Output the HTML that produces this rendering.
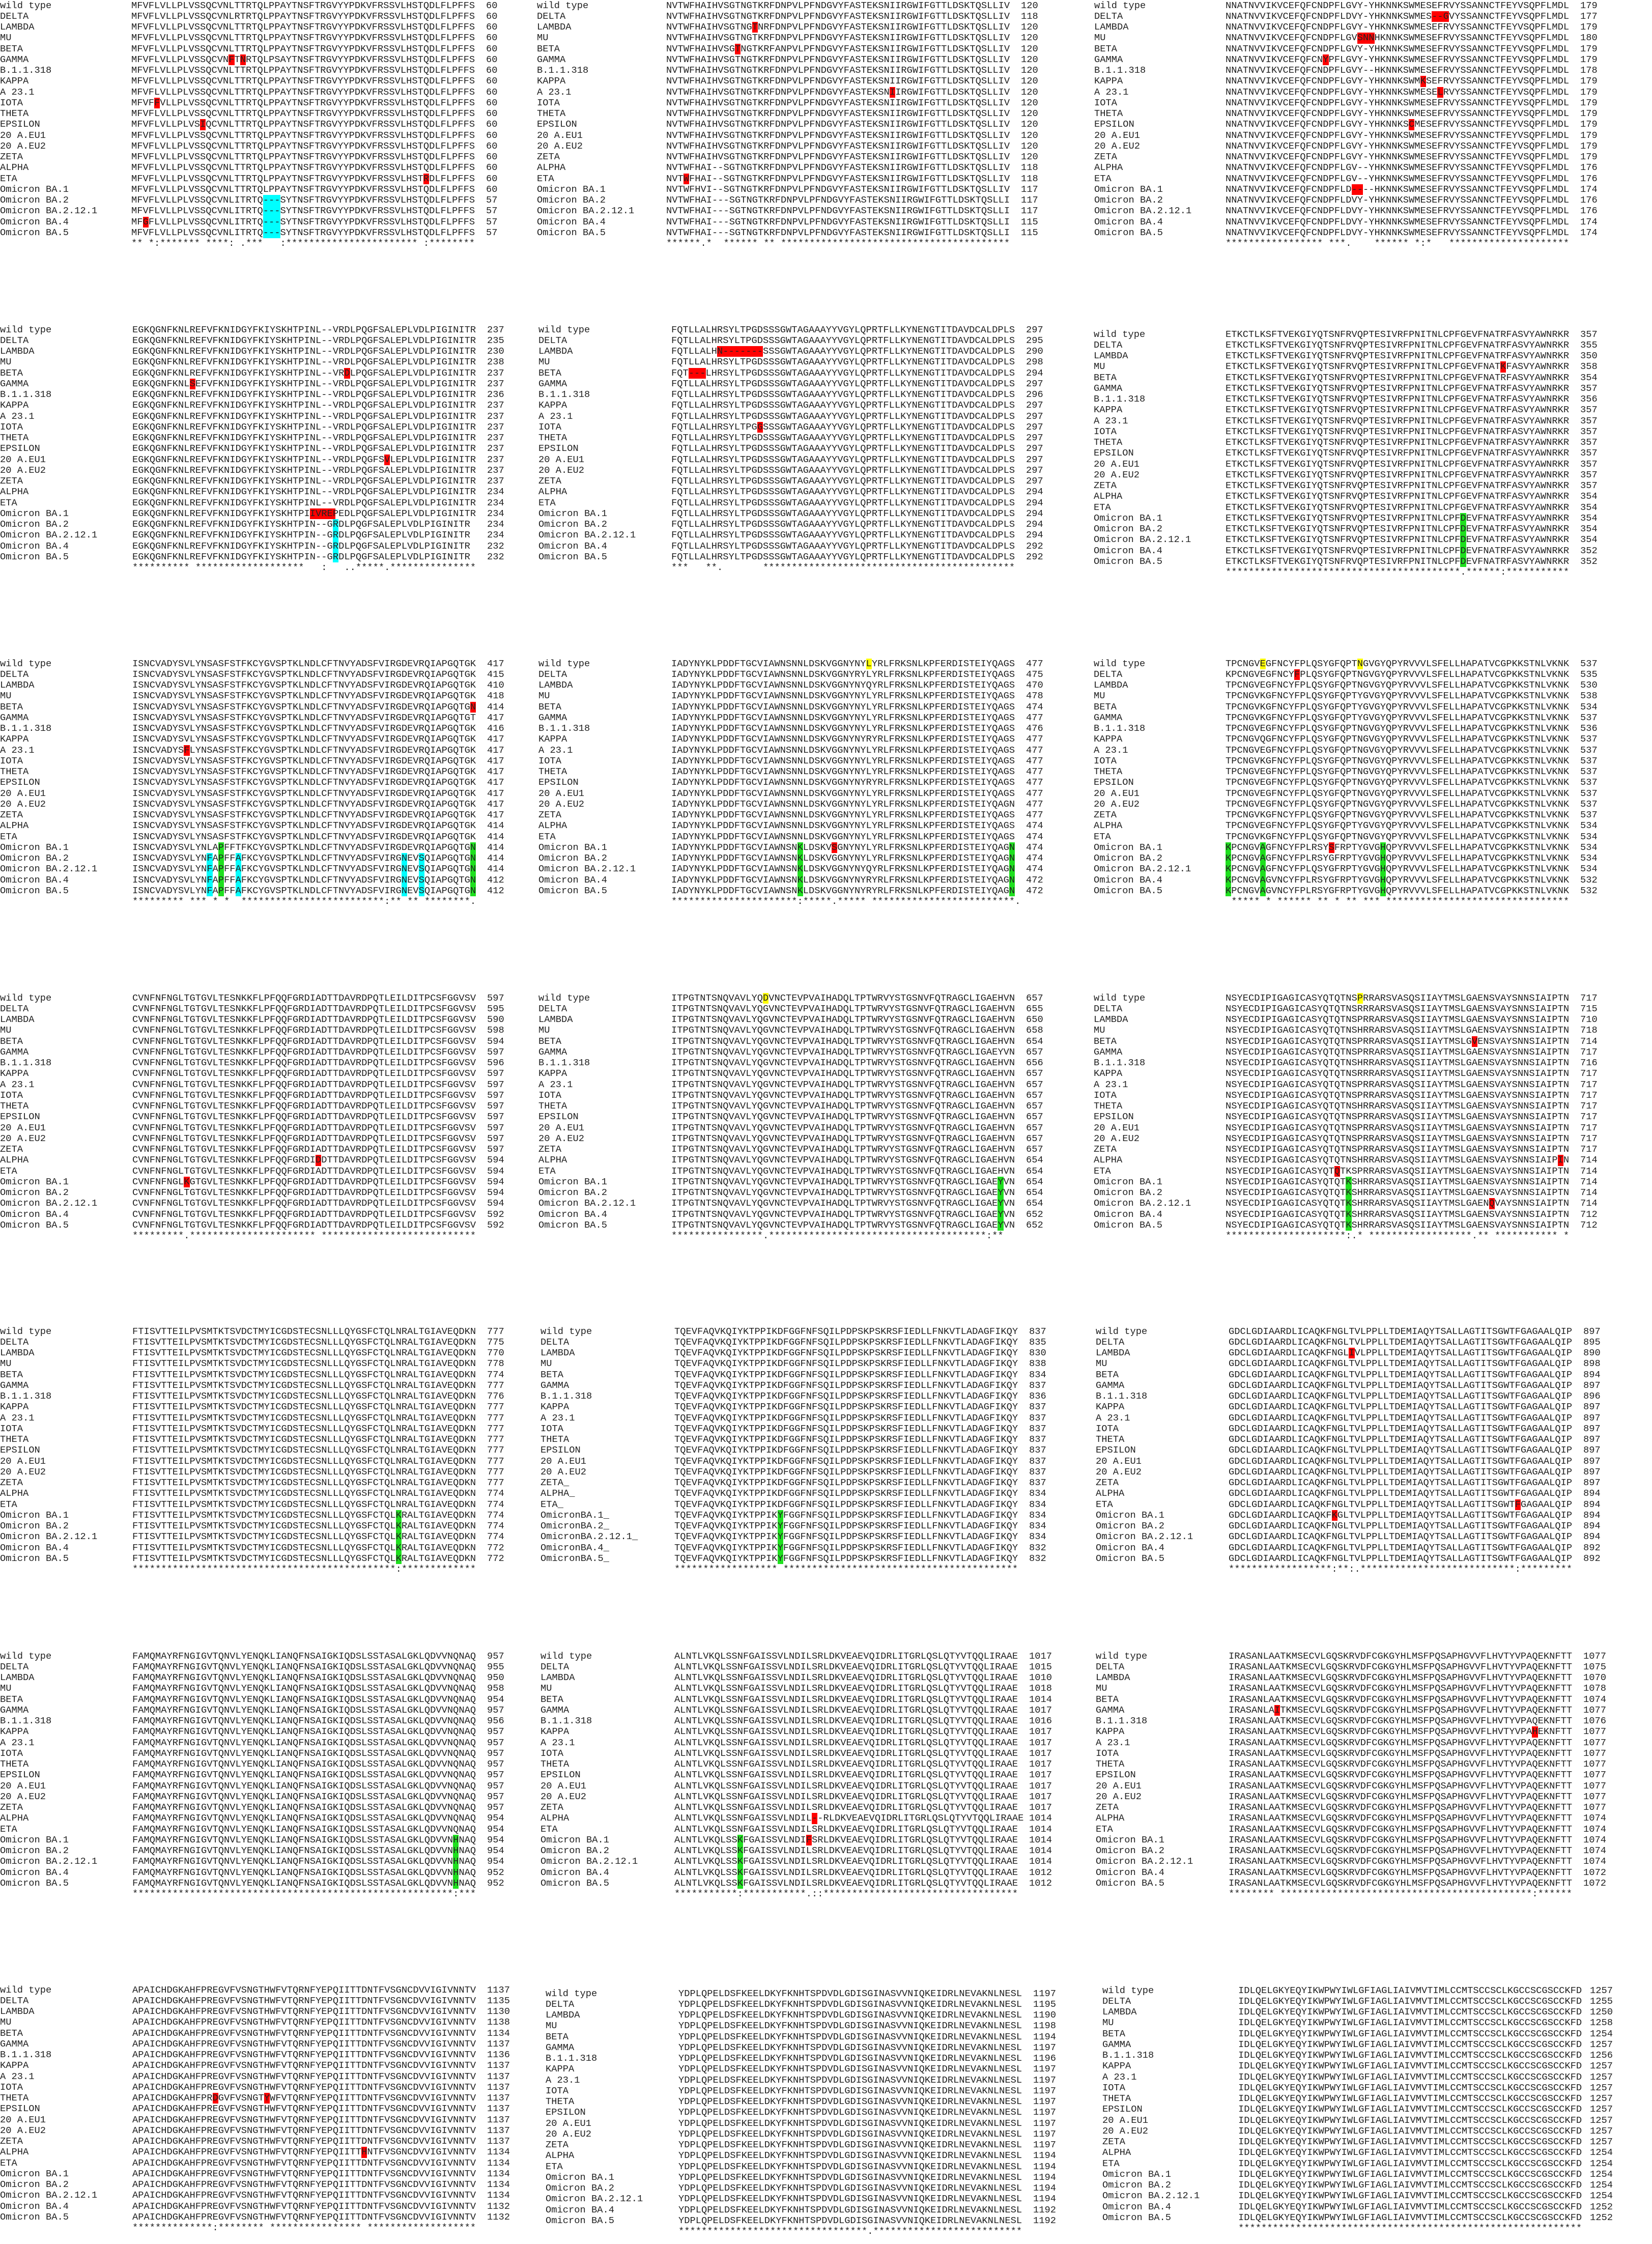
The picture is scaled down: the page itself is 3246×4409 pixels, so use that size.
<!DOCTYPE html>
<html><head><meta charset="utf-8"><style>
html,body{margin:0;padding:0;background:#fff;width:3246px;height:4409px;overflow:hidden;position:relative}
.h{position:absolute;height:21.25px;width:11.25px}
.r{background:#f00}.g{background:#1ee01e}.c{background:#0ff}.y{background:#ff0}
.b{position:absolute}
.b pre{position:absolute;top:0;margin:0;font:18.75px/21.25px "Liberation Mono",monospace;color:#222;white-space:pre}
</style></head><body>
<!-- highlights -->
<div class="h r" style="left:449.25px;top:106.75px"></div>
<div class="h r" style="left:471.75px;top:106.75px"></div>
<div class="h r" style="left:303px;top:191.75px"></div>
<div class="h r" style="left:393px;top:234.25px"></div>
<div class="h r" style="left:831.75px;top:340.5px"></div>
<div class="h r" style="left:280.5px;top:425.5px"></div>
<div class="h c" style="left:516.75px;top:383px;width:33.75px;height:85px"></div>
<div class="h r" style="left:1477.75px;top:43px"></div>
<div class="h r" style="left:1444px;top:85.5px"></div>
<div class="h r" style="left:1747.75px;top:170.5px"></div>
<div class="h r" style="left:1342.75px;top:340.5px"></div>
<div class="h r" style="left:2813px;top:21.75px;width:33.75px"></div>
<div class="h r" style="left:2666.75px;top:64.25px;width:33.75px"></div>
<div class="h r" style="left:2599.25px;top:106.75px"></div>
<div class="h r" style="left:2790.5px;top:149.25px"></div>
<div class="h r" style="left:2824.25px;top:170.5px"></div>
<div class="h r" style="left:2768px;top:234.25px"></div>
<div class="h r" style="left:2655.5px;top:361.75px;width:22.5px"></div>

<div class="h r" style="left:676.25px;top:722.5px"></div>
<div class="h r" style="left:372.5px;top:743.75px"></div>
<div class="h r" style="left:755px;top:892.5px"></div>
<div class="h r" style="left:608.75px;top:998.75px;width:50px"></div>
<div class="h c" style="left:653.75px;top:1020px;height:85px"></div>
<div class="h r" style="left:1409px;top:680px;width:90px"></div>
<div class="h r" style="left:1352.75px;top:722.5px;width:33.75px"></div>
<div class="h r" style="left:1487.75px;top:828.75px"></div>
<div class="h r" style="left:2948px;top:710.25px"></div>
<div class="h g" style="left:2869.25px;top:1007.75px;height:106.25px"></div>

<div class="h r" style="left:923.75px;top:1378.5px"></div>
<div class="h r" style="left:361.25px;top:1463.5px"></div>
<div class="h c" style="left:406.25px;top:1676px;height:85px"></div>
<div class="h c" style="left:462.5px;top:1676px;height:85px"></div>
<div class="h c" style="left:788.75px;top:1676px;height:85px"></div>
<div class="h c" style="left:822.5px;top:1676px;height:85px"></div>
<div class="h g" style="left:428.75px;top:1654.75px;height:106.25px"></div>
<div class="h g" style="left:923.75px;top:1654.75px;height:106.25px"></div>
<div class="h y" style="left:1701.5px;top:1293.5px"></div>
<div class="h r" style="left:1634px;top:1654.75px"></div>
<div class="h g" style="left:1566.5px;top:1654.75px;height:106.25px"></div>
<div class="h g" style="left:1982.75px;top:1654.75px;height:106.25px"></div>
<div class="h y" style="left:2475.5px;top:1293.5px"></div>
<div class="h y" style="left:2666.75px;top:1293.5px"></div>
<div class="h r" style="left:2543px;top:1314.75px"></div>
<div class="h r" style="left:2610.5px;top:1654.75px"></div>
<div class="h g" style="left:2408px;top:1654.75px;height:106.25px"></div>
<div class="h g" style="left:2475.5px;top:1654.75px;height:106.25px"></div>
<div class="h g" style="left:2711.75px;top:1654.75px;height:106.25px"></div>

<div class="h r" style="left:620px;top:2269.25px"></div>
<div class="h r" style="left:361.25px;top:2311.75px"></div>
<div class="h y" style="left:1499px;top:1950.5px"></div>
<div class="h g" style="left:1960.25px;top:2311.75px;height:106.25px"></div>
<div class="h y" style="left:2666.75px;top:1950.5px"></div>
<div class="h r" style="left:2891.75px;top:2035.5px"></div>
<div class="h r" style="left:3060.5px;top:2269.25px"></div>
<div class="h r" style="left:2621.75px;top:2290.5px"></div>
<div class="h g" style="left:2644.25px;top:2311.75px;height:106.25px"></div>
<div class="h r" style="left:2925.5px;top:2354.25px"></div>

<div class="h g" style="left:777.5px;top:2966.75px;height:106.25px"></div>
<div class="h g" style="left:1527.5px;top:2966.75px;height:106.25px"></div>
<div class="h r" style="left:2650.25px;top:2648px"></div>
<div class="h r" style="left:2976.5px;top:2945.5px"></div>
<div class="h r" style="left:2616.5px;top:2966.75px"></div>

<div class="h g" style="left:890px;top:3604.75px;height:106.25px"></div>
<div class="h r" style="left:1595px;top:3562.25px"></div>
<div class="h r" style="left:1583.75px;top:3604.75px"></div>
<div class="h g" style="left:1448.75px;top:3604.75px;height:106.25px"></div>
<div class="h r" style="left:2504px;top:3349.75px"></div>
<div class="h r" style="left:3010.25px;top:3392.25px"></div>

<div class="h r" style="left:417.5px;top:4112px"></div>
<div class="h r" style="left:518.75px;top:4112px"></div>
<div class="h r" style="left:710px;top:4218.25px"></div>

<!-- ROW 1 -->
<div class="b" style="left:0px;top:0.5px"><pre>wild type
DELTA
LAMBDA
MU
BETA
GAMMA
B.1.1.318
KAPPA
A 23.1
IOTA
THETA
EPSILON
20 A.EU1
20 A.EU2
ZETA
ALPHA
ETA
Omicron BA.1
Omicron BA.2
Omicron BA.2.12.1
Omicron BA.4
Omicron BA.5</pre><pre style="left:258px">MFVFLVLLPLVSSQCVNLTTRTQLPPAYTNSFTRGVYYPDKVFRSSVLHSTQDLFLPFFS
MFVFLVLLPLVSSQCVNLRTRTQLPPAYTNSFTRGVYYPDKVFRSSVLHSTQDLFLPFFS
MFVFLVLLPLVSSQCVNLTTRTQLPPAYTNSFTRGVYYPDKVFRSSVLHSTQDLFLPFFS
MFVFLVLLPLVSSQCVNLTTRTQLPPAYTNSFTRGVYYPDKVFRSSVLHSTQDLFLPFFS
MFVFLVLLPLVSSQCVNLTTRTQLPPAYTNSFTRGVYYPDKVFRSSVLHSTQDLFLPFFS
MFVFLVLLPLVSSQCVNFTNRTQLPSAYTNSFTRGVYYPDKVFRSSVLHSTQDLFLPFFS
MFVFLVLLPLVSSQCVNLTTRTQLPPAYTNSFTRGVYYPDKVFRSSVLHSTQDLFLPFFS
MFVFLVLLPLVSSQCVNLTTRTQLPPAYTNSFTRGVYYPDKVFRSSVLHSTQDLFLPFFS
MFVFLVLLPLVSSQCVNLTTRTQLPPAYTNSFTRGVYYPDKVFRSSVLHSTQDLFLPFFS
MFVFFVLLPLVSSQCVNLTTRTQLPPAYTNSFTRGVYYPDKVFRSSVLHSTQDLFLPFFS
MFVFLVLLPLVSSQCVNLTTRTQLPPAYTNSFTRGVYYPDKVFRSSVLHSTQDLFLPFFS
MFVFLVLLPLVSIQCVNLTTRTQLPPAYTNSFTRGVYYPDKVFRSSVLHSTQDLFLPFFS
MFVFLVLLPLVSSQCVNLTTRTQLPPAYTNSFTRGVYYPDKVFRSSVLHSTQDLFLPFFS
MFVFLVLLPLVSSQCVNLTTRTQLPPAYTNSFTRGVYYPDKVFRSSVLHSTQDLFLPFFS
MFVFLVLLPLVSSQCVNLTTRTQLPPAYTNSFTRGVYYPDKVFRSSVLHSTQDLFLPFFS
MFVFLVLLPLVSSQCVNLTTRTQLPPAYTNSFTRGVYYPDKVFRSSVLHSTQDLFLPFFS
MFVFLVLLPLVSSQCVNLTTRTQLPPAYTNSFTRGVYYPDKVFRSSVLHSTRDLFLPFFS
MFVFLVLLPLVSSQCVNLTTRTQLPPAYTNSFTRGVYYPDKVFRSSVLHSTQDLFLPFFS
MFVFLVLLPLVSSQCVNLITRTQ---SYTNSFTRGVYYPDKVFRSSVLHSTQDLFLPFFS
MFVFLVLLPLVSSQCVNLITRTQ---SYTNSFTRGVYYPDKVFRSSVLHSTQDLFLPFFS
MFGFLVLLPLVSSQCVNLITRTQ---SYTNSFTRGVYYPDKVFRSSVLHSTQDLFLPFFS
MFVFLVLLPLVSSQCVNLITRTQ---SYTNSFTRGVYYPDKVFRSSVLHSTQDLFLPFFS
** *:******* ****: .***   :*********************** :********</pre><pre style="left:955px">60
60
60
60
60
60
60
60
60
60
60
60
60
60
60
60
60
60
57
57
57
57</pre></div>

<div class="b" style="left:1055px;top:0.5px"><pre>wild type
DELTA
LAMBDA
MU
BETA
GAMMA
B.1.1.318
KAPPA
A 23.1
IOTA
THETA
EPSILON
20 A.EU1
20 A.EU2
ZETA
ALPHA
ETA
Omicron BA.1
Omicron BA.2
Omicron BA.2.12.1
Omicron BA.4
Omicron BA.5</pre><pre style="left:254px">NVTWFHAIHVSGTNGTKRFDNPVLPFNDGVYFASTEKSNIIRGWIFGTTLDSKTQSLLIV
NVTWFHAIHVSGTNGTKRFDNPVLPFNDGVYFASTEKSNIIRGWIFGTTLDSKTQSLLIV
NVTWFHAIHVSGTNGTNRFDNPVLPFNDGVYFASTEKSNIIRGWIFGTTLDSKTQSLLIV
NVTWFHAIHVSGTNGTKRFDNPVLPFNDGVYFASTEKSNIIRGWIFGTTLDSKTQSLLIV
NVTWFHAIHVSGTNGTKRFANPVLPFNDGVYFASTEKSNIIRGWIFGTTLDSKTQSLLIV
NVTWFHAIHVSGTNGTKRFDNPVLPFNDGVYFASTEKSNIIRGWIFGTTLDSKTQSLLIV
NVTWFHAIHVSGTNGTKRFDNPVLPFNDGVYFASTEKSNIIRGWIFGTTLDSKTQSLLIV
NVTWFHAIHVSGTNGTKRFDNPVLPFNDGVYFASTEKSNIIRGWIFGTTLDSKTQSLLIV
NVTWFHAIHVSGTNGTKRFDNPVLPFNDGVYFASTEKSNIIRGWIFGTTLDSKTQSLLIV
NVTWFHAIHVSGTNGTKRFDNPVLPFNDGVYFASTEKSNIIRGWIFGTTLDSKTQSLLIV
NVTWFHAIHVSGTNGTKRFDNPVLPFNDGVYFASTEKSNIIRGWIFGTTLDSKTQSLLIV
NVTWFHAIHVSGTNGTKRFDNPVLPFNDGVYFASTEKSNIIRGWIFGTTLDSKTQSLLIV
NVTWFHAIHVSGTNGTKRFDNPVLPFNDGVYFASTEKSNIIRGWIFGTTLDSKTQSLLIV
NVTWFHAIHVSGTNGTKRFDNPVLPFNDGVYFASTEKSNIIRGWIFGTTLDSKTQSLLIV
NVTWFHAIHVSGTNGTKRFDNPVLPFNDGVYFASTEKSNIIRGWIFGTTLDSKTQSLLIV
NVTWFHAI--SGTNGTKRFDNPVLPFNDGVYFASTEKSNIIRGWIFGTTLDSKTQSLLIV
NVTWFHAI--SGTNGTKRFDNPVLPFNDGVYFASTEKSNIIRGWIFGTTLDSKTQSLLIV
NVTWFHVI--SGTNGTKRFDNPVLPFNDGVYFASTEKSNIIRGWIFGTTLDSKTQSLLIV
NVTWFHAI---SGTNGTKRFDNPVLPFNDGVYFASTEKSNIIRGWIFGTTLDSKTQSLLI
NVTWFHAI---SGTNGTKRFDNPVLPFNDGVYFASTEKSNIIRGWIFGTTLDSKTQSLLI
NVTWFHAI---SGTNGTKRFDNPVLPFNDGVYFASTEKSNIIRGWIFGTTLDSKTQSLLI
NVTWFHAI---SGTNGTKRFDNPVLPFNDGVYFASTEKSNIIRGWIFGTTLDSKTQSLLI
******.*  ****** ** ****************************************</pre><pre style="left:951px">120
118
120
120
120
120
120
120
120
120
120
120
120
120
120
118
118
117
117
117
115
115</pre></div>

<div class="b" style="left:2150px;top:0.5px"><pre>wild type
DELTA
LAMBDA
MU
BETA
GAMMA
B.1.1.318
KAPPA
A 23.1
IOTA
THETA
EPSILON
20 A.EU1
20 A.EU2
ZETA
ALPHA
ETA
Omicron BA.1
Omicron BA.2
Omicron BA.2.12.1
Omicron BA.4
Omicron BA.5</pre><pre style="left:258px">NNATNVVIKVCEFQFCNDPFLGVY-YHKNNKSWMESEFRVYSSANNCTFEYVSQPFLMDL
NNATNVVIKVCEFQFCNDPFLDVY-YHKNNKSWMES--GVYSSANNCTFEYVSQPFLMDL
NNATNVVIKVCEFQFCNDPFLGVY-YHKNNKSWMESEFRVYSSANNCTFEYVSQPFLMDL
NNATNVVIKVCEFQFCNDPFLGVSNNHKNNKSWMESEFRVYSSANNCTFEYVSQPFLMDL
NNATNVVIKVCEFQFCNDPFLGVY-YHKNNKSWMESEFRVYSSANNCTFEYVSQPFLMDL
NNATNVVIKVCEFQFCNYPFLGVY-YHKNNKSWMESEFRVYSSANNCTFEYVSQPFLMDL
NNATNVVIKVCEFQFCNDPFLGVY--HKNNKSWMESEFRVYSSANNCTFEYVSQPFLMDL
NNATNVVIKVCEFQFCNDPFLGVY-YHKNNKSWMKSEFRVYSSANNCTFEYVSQPFLMDL
NNATNVVIKVCEFQFCNDPFLGVY-YHKNNKSWMESELRVYSSANNCTFEYVSQPFLMDL
NNATNVVIKVCEFQFCNDPFLGVY-YHKNNKSWMESEFRVYSSANNCTFEYVSQPFLMDL
NNATNVVIKVCEFQFCNDPFLGVY-YHKNNKSWMESEFRVYSSANNCTFEYVSQPFLMDL
NNATNVVIKVCEFQFCNDPFLGVY-YHKNNKSCMESEFRVYSSANNCTFEYVSQPFLMDL
NNATNVVIKVCEFQFCNDPFLGVY-YHKNNKSWMESEFRVYSSANNCTFEYVSQPFLMDL
NNATNVVIKVCEFQFCNDPFLGVY-YHKNNKSWMESEFRVYSSANNCTFEYVSQPFLMDL
NNATNVVIKVCEFQFCNDPFLGVY-YHKNNKSWMESEFRVYSSANNCTFEYVSQPFLMDL
NNATNVVIKVCEFQFCNDPFLGV--YHKNNKSWMESEFRVYSSANNCTFEYVSQPFLMDL
NNATNVVIKVCEFQFCNDPFLGV--YHKNNKSWMESEFRVYSSANNCTFEYVSQPFLMDL
NNATNVVIKVCEFQFCNDPFLD----HKNNKSWMESEFRVYSSANNCTFEYVSQPFLMDL
NNATNVVIKVCEFQFCNDPFLDVY-YHKNNKSWMESEFRVYSSANNCTFEYVSQPFLMDL
NNATNVVIKVCEFQFCNDPFLDVY-YHKNNKSWMESEFRVYSSANNCTFEYVSQPFLMDL
NNATNVVIKVCEFQFCNDPFLDVY-YHKNNKSWMESEFRVYSSANNCTFEYVSQPFLMDL
NNATNVVIKVCEFQFCNDPFLDVY-YHKNNKSWMESEFRVYSSANNCTFEYVSQPFLMDL
***************** ***.    ****** *:*   *********************</pre><pre style="left:955px">179
177
179
180
179
179
178
179
179
179
179
179
179
179
179
176
176
174
176
176
174
174</pre></div>

<!-- ROW 2 -->
<div class="b" style="left:0px;top:637.5px"><pre>wild type
DELTA
LAMBDA
MU
BETA
GAMMA
B.1.1.318
KAPPA
A 23.1
IOTA
THETA
EPSILON
20 A.EU1
20 A.EU2
ZETA
ALPHA
ETA
Omicron BA.1
Omicron BA.2
Omicron BA.2.12.1
Omicron BA.4
Omicron BA.5</pre><pre style="left:260px">EGKQGNFKNLREFVFKNIDGYFKIYSKHTPINL--VRDLPQGFSALEPLVDLPIGINITR
EGKQGNFKNLREFVFKNIDGYFKIYSKHTPINL--VRDLPQGFSALEPLVDLPIGINITR
EGKQGNFKNLREFVFKNIDGYFKIYSKHTPINL--VRDLPQGFSALEPLVDLPIGINITR
EGKQGNFKNLREFVFKNIDGYFKIYSKHTPINL--VRDLPQGFSALEPLVDLPIGINITR
EGKQGNFKNLREFVFKNIDGYFKIYSKHTPINL--VRDLPQGFSALEPLVDLPIGINITR
EGKQGNFKNLSEFVFKNIDGYFKIYSKHTPINL--VRDLPQGFSALEPLVDLPIGINITR
EGKQGNFKNLREFVFKNIDGYFKIYSKHTPINL--VRDLPQGFSALEPLVDLPIGINITR
EGKQGNFKNLREFVFKNIDGYFKIYSKHTPINL--VRDLPQGFSALEPLVDLPIGINITR
EGKQGNFKNLREFVFKNIDGYFKIYSKHTPINL--VRDLPQGFSALEPLVDLPIGINITR
EGKQGNFKNLREFVFKNIDGYFKIYSKHTPINL--VRDLPQGFSALEPLVDLPIGINITR
EGKQGNFKNLREFVFKNIDGYFKIYSKHTPINL--VRDLPQGFSALEPLVDLPIGINITR
EGKQGNFKNLREFVFKNIDGYFKIYSKHTPINL--VRDLPQGFSALEPLVDLPIGINITR
EGKQGNFKNLREFVFKNIDGYFKIYSKHTPINL--VRDLPQGFSVLEPLVDLPIGINITR
EGKQGNFKNLREFVFKNIDGYFKIYSKHTPINL--VRDLPQGFSALEPLVDLPIGINITR
EGKQGNFKNLREFVFKNIDGYFKIYSKHTPINL--VRDLPQGFSALEPLVDLPIGINITR
EGKQGNFKNLREFVFKNIDGYFKIYSKHTPINL--VRDLPQGFSALEPLVDLPIGINITR
EGKQGNFKNLREFVFKNIDGYFKIYSKHTPINL--VRDLPQGFSALEPLVDLPIGINITR
EGKQGNFKNLREFVFKNIDGYFKIYSKHTPIIVREPEDLPQGFSALEPLVDLPIGINITR
EGKQGNFKNLREFVFKNIDGYFKIYSKHTPIN--GRDLPQGFSALEPLVDLPIGINITR
EGKQGNFKNLREFVFKNIDGYFKIYSKHTPIN--GRDLPQGFSALEPLVDLPIGINITR
EGKQGNFKNLREFVFKNIDGYFKIYSKHTPIN--GRDLPQGFSALEPLVDLPIGINITR
EGKQGNFKNLREFVFKNIDGYFKIYSKHTPIN--GRDLPQGFSALEPLVDLPIGINITR
********** *******************   :   ..*****.***************</pre><pre style="left:957px">237
235
230
238
237
237
236
237
237
237
237
237
237
237
237
234
234
234
234
234
232
232</pre></div>

<div class="b" style="left:1058px;top:637.5px"><pre>wild type
DELTA
LAMBDA
MU
BETA
GAMMA
B.1.1.318
KAPPA
A 23.1
IOTA
THETA
EPSILON
20 A.EU1
20 A.EU2
ZETA
ALPHA
ETA
Omicron BA.1
Omicron BA.2
Omicron BA.2.12.1
Omicron BA.4
Omicron BA.5</pre><pre style="left:261px">FQTLLALHRSYLTPGDSSSGWTAGAAAYYVGYLQPRTFLLKYNENGTITDAVDCALDPLS
FQTLLALHRSYLTPGDSSSGWTAGAAAYYVGYLQPRTFLLKYNENGTITDAVDCALDPLS
FQTLLALHN-------SSSGWTAGAAAYYVGYLQPRTFLLKYNENGTITDAVDCALDPLS
FQTLLALHRSYLTPGDSSSGWTAGAAAYYVGYLQPRTFLLKYNENGTITDAVDCALDPLS
FQT---LHRSYLTPGDSSSGWTAGAAAYYVGYLQPRTFLLKYNENGTITDAVDCALDPLS
FQTLLALHRSYLTPGDSSSGWTAGAAAYYVGYLQPRTFLLKYNENGTITDAVDCALDPLS
FQTLLALHRSYLTPGDSSSGWTAGAAAYYVGYLQPRTFLLKYNENGTITDAVDCALDPLS
FQTLLALHRSYLTPGDSSSGWTAGAAAYYVGYLQPRTFLLKYNENGTITDAVDCALDPLS
FQTLLALHRSYLTPGDSSSGWTAGAAAYYVGYLQPRTFLLKYNENGTITDAVDCALDPLS
FQTLLALHRSYLTPGGSSSGWTAGAAAYYVGYLQPRTFLLKYNENGTITDAVDCALDPLS
FQTLLALHRSYLTPGDSSSGWTAGAAAYYVGYLQPRTFLLKYNENGTITDAVDCALDPLS
FQTLLALHRSYLTPGDSSSGWTAGAAAYYVGYLQPRTFLLKYNENGTITDAVDCALDPLS
FQTLLALHRSYLTPGDSSSGWTAGAAAYYVGYLQPRTFLLKYNENGTITDAVDCALDPLS
FQTLLALHRSYLTPGDSSSGWTAGAAAYYVGYLQPRTFLLKYNENGTITDAVDCALDPLS
FQTLLALHRSYLTPGDSSSGWTAGAAAYYVGYLQPRTFLLKYNENGTITDAVDCALDPLS
FQTLLALHRSYLTPGDSSSGWTAGAAAYYVGYLQPRTFLLKYNENGTITDAVDCALDPLS
FQTLLALHRSYLTPGDSSSGWTAGAAAYYVGYLQPRTFLLKYNENGTITDAVDCALDPLS
FQTLLALHRSYLTPGDSSSGWTAGAAAYYVGYLQPRTFLLKYNENGTITDAVDCALDPLS
FQTLLALHRSYLTPGDSSSGWTAGAAAYYVGYLQPRTFLLKYNENGTITDAVDCALDPLS
FQTLLALHRSYLTPGDSSSGWTAGAAAYYVGYLQPRTFLLKYNENGTITDAVDCALDPLS
FQTLLALHRSYLTPGDSSSGWTAGAAAYYVGYLQPRTFLLKYNENGTITDAVDCALDPLS
FQTLLALHRSYLTPGDSSSGWTAGAAAYYVGYLQPRTFLLKYNENGTITDAVDCALDPLS
***   **.       ********************************************</pre><pre style="left:958px">297
295
290
298
294
297
296
297
297
297
297
297
297
297
297
294
294
294
294
294
292
292</pre></div>

<div class="b" style="left:2149px;top:646.5px"><pre>wild type
DELTA
LAMBDA
MU
BETA
GAMMA
B.1.1.318
KAPPA
A 23.1
IOTA
THETA
EPSILON
20 A.EU1
20 A.EU2
ZETA
ALPHA
ETA
Omicron BA.1
Omicron BA.2
Omicron BA.2.12.1
Omicron BA.4
Omicron BA.5</pre><pre style="left:259px">ETKCTLKSFTVEKGIYQTSNFRVQPTESIVRFPNITNLCPFGEVFNATRFASVYAWNRKR
ETKCTLKSFTVEKGIYQTSNFRVQPTESIVRFPNITNLCPFGEVFNATRFASVYAWNRKR
ETKCTLKSFTVEKGIYQTSNFRVQPTESIVRFPNITNLCPFGEVFNATRFASVYAWNRKR
ETKCTLKSFTVEKGIYQTSNFRVQPTESIVRFPNITNLCPFGEVFNATKFASVYAWNRKR
ETKCTLKSFTVEKGIYQTSNFRVQPTESIVRFPNITNLCPFGEVFNATRFASVYAWNRKR
ETKCTLKSFTVEKGIYQTSNFRVQPTESIVRFPNITNLCPFGEVFNATRFASVYAWNRKR
ETKCTLKSFTVEKGIYQTSNFRVQPTESIVRFPNITNLCPFGEVFNATRFASVYAWNRKR
ETKCTLKSFTVEKGIYQTSNFRVQPTESIVRFPNITNLCPFGEVFNATRFASVYAWNRKR
ETKCTLKSFTVEKGIYQTSNFRVQPTESIVRFPNITNLCPFGEVFNATRFASVYAWNRKR
ETKCTLKSFTVEKGIYQTSNFRVQPTESIVRFPNITNLCPFGEVFNATRFASVYAWNRKR
ETKCTLKSFTVEKGIYQTSNFRVQPTESIVRFPNITNLCPFGEVFNATRFASVYAWNRKR
ETKCTLKSFTVEKGIYQTSNFRVQPTESIVRFPNITNLCPFGEVFNATRFASVYAWNRKR
ETKCTLKSFTVEKGIYQTSNFRVQPTESIVRFPNITNLCPFGEVFNATRFASVYAWNRKR
ETKCTLKSFTVEKGIYQTSNFRVQPTESIVRFPNITNLCPFGEVFNATRFASVYAWNRKR
ETKCTLKSFTVEKGIYQTSNFRVQPTESIVRFPNITNLCPFGEVFNATRFASVYAWNRKR
ETKCTLKSFTVEKGIYQTSNFRVQPTESIVRFPNITNLCPFGEVFNATRFASVYAWNRKR
ETKCTLKSFTVEKGIYQTSNFRVQPTESIVRFPNITNLCPFGEVFNATRFASVYAWNRKR
ETKCTLKSFTVEKGIYQTSNFRVQPTESIVRFPNITNLCPFDEVFNATRFASVYAWNRKR
ETKCTLKSFTVEKGIYQTSNFRVQPTESIVRFPNITNLCPFDEVFNATRFASVYAWNRKR
ETKCTLKSFTVEKGIYQTSNFRVQPTESIVRFPNITNLCPFDEVFNATRFASVYAWNRKR
ETKCTLKSFTVEKGIYQTSNFRVQPTESIVRFPNITNLCPFDEVFNATRFASVYAWNRKR
ETKCTLKSFTVEKGIYQTSNFRVQPTESIVRFPNITNLCPFDEVFNATRFASVYAWNRKR
*****************************************.******:***********</pre><pre style="left:956px">357
355
350
358
354
357
356
357
357
357
357
357
357
357
357
354
354
354
354
354
352
352</pre></div>

<!-- ROW 3 -->
<div class="b" style="left:0px;top:1293.5px"><pre>wild type
DELTA
LAMBDA
MU
BETA
GAMMA
B.1.1.318
KAPPA
A 23.1
IOTA
THETA
EPSILON
20 A.EU1
20 A.EU2
ZETA
ALPHA
ETA
Omicron BA.1
Omicron BA.2
Omicron BA.2.12.1
Omicron BA.4
Omicron BA.5</pre><pre style="left:260px">ISNCVADYSVLYNSASFSTFKCYGVSPTKLNDLCFTNVYADSFVIRGDEVRQIAPGQTGK
ISNCVADYSVLYNSASFSTFKCYGVSPTKLNDLCFTNVYADSFVIRGDEVRQIAPGQTGK
ISNCVADYSVLYNSASFSTFKCYGVSPTKLNDLCFTNVYADSFVIRGDEVRQIAPGQTGK
ISNCVADYSVLYNSASFSTFKCYGVSPTKLNDLCFTNVYADSFVIRGDEVRQIAPGQTGK
ISNCVADYSVLYNSASFSTFKCYGVSPTKLNDLCFTNVYADSFVIRGDEVRQIAPGQTGN
ISNCVADYSVLYNSASFSTFKCYGVSPTKLNDLCFTNVYADSFVIRGDEVRQIAPGQTGT
ISNCVADYSVLYNSASFSTFKCYGVSPTKLNDLCFTNVYADSFVIRGDEVRQIAPGQTGK
ISNCVADYSVLYNSASFSTFKCYGVSPTKLNDLCFTNVYADSFVIRGDEVRQIAPGQTGK
ISNCVADYSFLYNSASFSTFKCYGVSPTKLNDLCFTNVYADSFVIRGDEVRQIAPGQTGK
ISNCVADYSVLYNSASFSTFKCYGVSPTKLNDLCFTNVYADSFVIRGDEVRQIAPGQTGK
ISNCVADYSVLYNSASFSTFKCYGVSPTKLNDLCFTNVYADSFVIRGDEVRQIAPGQTGK
ISNCVADYSVLYNSASFSTFKCYGVSPTKLNDLCFTNVYADSFVIRGDEVRQIAPGQTGK
ISNCVADYSVLYNSASFSTFKCYGVSPTKLNDLCFTNVYADSFVIRGDEVRQIAPGQTGK
ISNCVADYSVLYNSASFSTFKCYGVSPTKLNDLCFTNVYADSFVIRGDEVRQIAPGQTGK
ISNCVADYSVLYNSASFSTFKCYGVSPTKLNDLCFTNVYADSFVIRGDEVRQIAPGQTGK
ISNCVADYSVLYNSASFSTFKCYGVSPTKLNDLCFTNVYADSFVIRGDEVRQIAPGQTGK
ISNCVADYSVLYNSASFSTFKCYGVSPTKLNDLCFTNVYADSFVIRGDEVRQIAPGQTGK
ISNCVADYSVLYNLAPFFTFKCYGVSPTKLNDLCFTNVYADSFVIRGDEVRQIAPGQTGN
ISNCVADYSVLYNFAPFFAFKCYGVSPTKLNDLCFTNVYADSFVIRGNEVSQIAPGQTGN
ISNCVADYSVLYNFAPFFAFKCYGVSPTKLNDLCFTNVYADSFVIRGNEVSQIAPGQTGN
ISNCVADYSVLYNFAPFFAFKCYGVSPTKLNDLCFTNVYADSFVIRGNEVSQIAPGQTGN
ISNCVADYSVLYNFAPFFAFKCYGVSPTKLNDLCFTNVYADSFVIRGNEVSQIAPGQTGN
********* *** * *  *************************:** ** ********.</pre><pre style="left:957px">417
415
410
418
414
417
416
417
417
417
417
417
417
417
417
414
414
414
414
414
412
412</pre></div>

<div class="b" style="left:1058px;top:1293.5px"><pre>wild type
DELTA
LAMBDA
MU
BETA
GAMMA
B.1.1.318
KAPPA
A 23.1
IOTA
THETA
EPSILON
20 A.EU1
20 A.EU2
ZETA
ALPHA
ETA
Omicron BA.1
Omicron BA.2
Omicron BA.2.12.1
Omicron BA.4
Omicron BA.5</pre><pre style="left:261px">IADYNYKLPDDFTGCVIAWNSNNLDSKVGGNYNYLYRLFRKSNLKPFERDISTEIYQAGS
IADYNYKLPDDFTGCVIAWNSNNLDSKVGGNYRYLYRLFRKSNLKPFERDISTEIYQAGS
IADYNYKLPDDFTGCVIAWNSNNLDSKVGGNYNYQYRLFRKSNLKPFERDISTEIYQAGS
IADYNYKLPDDFTGCVIAWNSNNLDSKVGGNYNYLYRLFRKSNLKPFERDISTEIYQAGS
IADYNYKLPDDFTGCVIAWNSNNLDSKVGGNYNYLYRLFRKSNLKPFERDISTEIYQAGS
IADYNYKLPDDFTGCVIAWNSNNLDSKVGGNYNYLYRLFRKSNLKPFERDISTEIYQAGS
IADYNYKLPDDFTGCVIAWNSNNLDSKVGGNYNYLYRLFRKSNLKPFERDISTEIYQAGS
IADYNYKLPDDFTGCVIAWNSNNLDSKVGGNYNYRYRLFRKSNLKPFERDISTEIYQAGS
IADYNYKLPDDFTGCVIAWNSNNLDSKVGGNYNYLYRLFRKSNLKPFERDISTEIYQAGS
IADYNYKLPDDFTGCVIAWNSNNLDSKVGGNYNYLYRLFRKSNLKPFERDISTEIYQAGS
IADYNYKLPDDFTGCVIAWNSNNLDSKVGGNYNYLYRLFRKSNLKPFERDISTEIYQAGS
IADYNYKLPDDFTGCVIAWNSNNLDSKVGGNYNYRYRLFRKSNLKPFERDISTEIYQAGS
IADYNYKLPDDFTGCVIAWNSNNLDSKVGGNYNYLYRLFRKSNLKPFERDISTEIYQAGS
IADYNYKLPDDFTGCVIAWNSNNLDSKVGGNYNYLYRLFRKSNLKPFERDISTEIYQAGN
IADYNYKLPDDFTGCVIAWNSNNLDSKVGGNYNYLYRLFRKSNLKPFERDISTEIYQAGS
IADYNYKLPDDFTGCVIAWNSNNLDSKVGGNYNYLYRLFRKSNLKPFERDISTEIYQAGS
IADYNYKLPDDFTGCVIAWNSNNLDSKVGGNYNYLYRLFRKSNLKPFERDISTEIYQAGS
IADYNYKLPDDFTGCVIAWNSNKLDSKVSGNYNYLYRLFRKSNLKPFERDISTEIYQAGN
IADYNYKLPDDFTGCVIAWNSNKLDSKVGGNYNYLYRLFRKSNLKPFERDISTEIYQAGN
IADYNYKLPDDFTGCVIAWNSNKLDSKVGGNYNYQYRLFRKSNLKPFERDISTEIYQAGN
IADYNYKLPDDFTGCVIAWNSNKLDSKVGGNYNYRYRLFRKSNLKPFERDISTEIYQAGN
IADYNYKLPDDFTGCVIAWNSNKLDSKVGGNYNYRYRLFRKSNLKPFERDISTEIYQAGN
**********************:*****.***** *************************.</pre><pre style="left:958px">477
475
470
478
474
477
476
477
477
477
477
477
477
477
477
474
474
474
474
474
472
472</pre></div>

<div class="b" style="left:2149px;top:1293.5px"><pre>wild type
DELTA
LAMBDA
MU
BETA
GAMMA
B.1.1.318
KAPPA
A 23.1
IOTA
THETA
EPSILON
20 A.EU1
20 A.EU2
ZETA
ALPHA
ETA
Omicron BA.1
Omicron BA.2
Omicron BA.2.12.1
Omicron BA.4
Omicron BA.5</pre><pre style="left:259px">TPCNGVEGFNCYFPLQSYGFQPTNGVGYQPYRVVVLSFELLHAPATVCGPKKSTNLVKNK
KPCNGVEGFNCYFPLQSYGFQPTNGVGYQPYRVVVLSFELLHAPATVCGPKKSTNLVKNK
TPCNGVEGFNCYFPLQSYGFQPTNGVGYQPYRVVVLSFELLHAPATVCGPKKSTNLVKNK
TPCNGVKGFNCYFPLQSYGFQPTYGVGYQPYRVVVLSFELLHAPATVCGPKKSTNLVKNK
TPCNGVKGFNCYFPLQSYGFQPTYGVGYQPYRVVVLSFELLHAPATVCGPKKSTNLVKNK
TPCNGVKGFNCYFPLQSYGFQPTYGVGYQPYRVVVLSFELLHAPATVCGPKKSTNLVKNK
TPCNGVEGFNCYFPLQSYGFQPTNGVGYQPYRVVVLSFELLHAPATVCGPKKSTNLVKNK
TPCNGVQGFNCYFPLQSYGFQPTNGVGYQPYRVVVLSFELLHAPATVCGPKKSTNLVKNK
TPCNGVEGFNCYFPLQSYGFQPTNGVGYQPYRVVVLSFELLHAPATVCGPKKSTNLVKNK
TPCNGVKGFNCYFPLQSYGFQPTNGVGYQPYRVVVLSFELLHAPATVCGPKKSTNLVKNK
TPCNGVEGFNCYFPLQSYGFQPTNGVGYQPYRVVVLSFELLHAPATVCGPKKSTNLVKNK
TPCNGVEGFNCYFPLQSYGFQPTNGVGYQPYRVVVLSFELLHAPATVCGPKKSTNLVKNK
TPCNGVEGFNCYFPLQSYGFQPTNGVGYQPYRVVVLSFELLHAPATVCGPKKSTNLVKNK
TPCNGVEGFNCYFPLQSYGFQPTNGVGYQPYRVVVLSFELLHAPATVCGPKKSTNLVKNK
TPCNGVKGFNCYFPLQSYGFQPTNGVGYQPYRVVVLSFELLHAPATVCGPKKSTNLVKNK
TPCNGVEGFNCYFPLQSYGFQPTYGVGYQPYRVVVLSFELLHAPATVCGPKKSTNLVKNK
TPCNGVKGFNCYFPLQSYGFQPTNGVGYQPYRVVVLSFELLHAPATVCGPKKSTNLVKNK
KPCNGVAGFNCYFPLRSYSFRPTYGVGHQPYRVVVLSFELLHAPATVCGPKKSTNLVKNK
KPCNGVAGFNCYFPLRSYGFRPTYGVGHQPYRVVVLSFELLHAPATVCGPKKSTNLVKNK
KPCNGVAGFNCYFPLQSYGFRPTYGVGHQPYRVVVLSFELLHAPATVCGPKKSTNLVKNK
KPCNGVAGVNCYFPLRSYGFRPTYGVGHQPYRVVVLSFELLHAPATVCGPKKSTNLVKNK
KPCNGVAGVNCYFPLRSYGFRPTYGVGHQPYRVVVLSFELLHAPATVCGPKKSTNLVKNK
 ***** * ****** ** * ** *** ********************************</pre><pre style="left:956px">537
535
530
538
534
537
536
537
537
537
537
537
537
537
537
534
534
534
534
534
532
532</pre></div>

<!-- ROW 4 -->
<div class="b" style="left:0px;top:1950.5px"><pre>wild type
DELTA
LAMBDA
MU
BETA
GAMMA
B.1.1.318
KAPPA
A 23.1
IOTA
THETA
EPSILON
20 A.EU1
20 A.EU2
ZETA
ALPHA
ETA
Omicron BA.1
Omicron BA.2
Omicron BA.2.12.1
Omicron BA.4
Omicron BA.5</pre><pre style="left:260px">CVNFNFNGLTGTGVLTESNKKFLPFQQFGRDIADTTDAVRDPQTLEILDITPCSFGGVSV
CVNFNFNGLTGTGVLTESNKKFLPFQQFGRDIADTTDAVRDPQTLEILDITPCSFGGVSV
CVNFNFNGLTGTGVLTESNKKFLPFQQFGRDIADTTDAVRDPQTLEILDITPCSFGGVSV
CVNFNFNGLTGTGVLTESNKKFLPFQQFGRDIADTTDAVRDPQTLEILDITPCSFGGVSV
CVNFNFNGLTGTGVLTESNKKFLPFQQFGRDIADTTDAVRDPQTLEILDITPCSFGGVSV
CVNFNFNGLTGTGVLTESNKKFLPFQQFGRDIADTTDAVRDPQTLEILDITPCSFGGVSV
CVNFNFNGLTGTGVLTESNKKFLPFQQFGRDIADTTDAVRDPQTLEILDITPCSFGGVSV
CVNFNFNGLTGTGVLTESNKKFLPFQQFGRDIADTTDAVRDPQTLEILDITPCSFGGVSV
CVNFNFNGLTGTGVLTESNKKFLPFQQFGRDIADTTDAVRDPQTLEILDITPCSFGGVSV
CVNFNFNGLTGTGVLTESNKKFLPFQQFGRDIADTTDAVRDPQTLEILDITPCSFGGVSV
CVNFNFNGLTGTGVLTESNKKFLPFQQFGRDIADTTDAVRDPQTLEILDITPCSFGGVSV
CVNFNFNGLTGTGVLTESNKKFLPFQQFGRDIADTTDAVRDPQTLEILDITPCSFGGVSV
CVNFNFNGLTGTGVLTESNKKFLPFQQFGRDIADTTDAVRDPQTLEILDITPCSFGGVSV
CVNFNFNGLTGTGVLTESNKKFLPFQQFGRDIADTTDAVRDPQTLEILDITPCSFGGVSV
CVNFNFNGLTGTGVLTESNKKFLPFQQFGRDIADTTDAVRDPQTLEILDITPCSFGGVSV
CVNFNFNGLTGTGVLTESNKKFLPFQQFGRDIDDTTDAVRDPQTLEILDITPCSFGGVSV
CVNFNFNGLTGTGVLTESNKKFLPFQQFGRDIADTTDAVRDPQTLEILDITPCSFGGVSV
CVNFNFNGLKGTGVLTESNKKFLPFQQFGRDIADTTDAVRDPQTLEILDITPCSFGGVSV
CVNFNFNGLTGTGVLTESNKKFLPFQQFGRDIADTTDAVRDPQTLEILDITPCSFGGVSV
CVNFNFNGLTGTGVLTESNKKFLPFQQFGRDIADTTDAVRDPQTLEILDITPCSFGGVSV
CVNFNFNGLTGTGVLTESNKKFLPFQQFGRDIADTTDAVRDPQTLEILDITPCSFGGVSV
CVNFNFNGLTGTGVLTESNKKFLPFQQFGRDIADTTDAVRDPQTLEILDITPCSFGGVSV
*********.********************** ***************************</pre><pre style="left:957px">597
595
590
598
594
597
596
597
597
597
597
597
597
597
597
594
594
594
594
594
592
592</pre></div>

<div class="b" style="left:1058px;top:1950.5px"><pre>wild type
DELTA
LAMBDA
MU
BETA
GAMMA
B.1.1.318
KAPPA
A 23.1
IOTA
THETA
EPSILON
20 A.EU1
20 A.EU2
ZETA
ALPHA
ETA
Omicron BA.1
Omicron BA.2
Omicron BA.2.12.1
Omicron BA.4
Omicron BA.5</pre><pre style="left:261px">ITPGTNTSNQVAVLYQDVNCTEVPVAIHADQLTPTWRVYSTGSNVFQTRAGCLIGAEHVN
ITPGTNTSNQVAVLYQGVNCTEVPVAIHADQLTPTWRVYSTGSNVFQTRAGCLIGAEHVN
ITPGTNTSNQVAVLYQGVNCTEVPVAIHADQLTPTWRVYSTGSNVFQTRAGCLIGAEHVN
ITPGTNTSNQVAVLYQGVNCTEVPVAIHADQLTPTWRVYSTGSNVFQTRAGCLIGAEHVN
ITPGTNTSNQVAVLYQGVNCTEVPVAIHADQLTPTWRVYSTGSNVFQTRAGCLIGAEHVN
ITPGTNTSNQVAVLYQGVNCTEVPVAIHADQLTPTWRVYSTGSNVFQTRAGCLIGAEYVN
ITPGTNTSNQVAVLYQGVNCTEVPVAIHADQLTPTWRVYSTGSNVFQTRAGCLIGAEHVN
ITPGTNTSNQVAVLYQGVNCTEVPVAIHADQLTPTWRVYSTGSNVFQTRAGCLIGAEHVN
ITPGTNTSNQVAVLYQGVNCTEVPVAIHADQLTPTWRVYSTGSNVFQTRAGCLIGAEHVN
ITPGTNTSNQVAVLYQGVNCTEVPVAIHADQLTPTWRVYSTGSNVFQTRAGCLIGAEHVN
ITPGTNTSNQVAVLYQGVNCTEVPVAIHADQLTPTWRVYSTGSNVFQTRAGCLIGAEHVN
ITPGTNTSNQVAVLYQGVNCTEVPVAIHADQLTPTWRVYSTGSNVFQTRAGCLIGAEHVN
ITPGTNTSNQVAVLYQGVNCTEVPVAIHADQLTPTWRVYSTGSNVFQTRAGCLIGAEHVN
ITPGTNTSNQVAVLYQGVNCTEVPVAIHADQLTPTWRVYSTGSNVFQTRAGCLIGAEHVN
ITPGTNTSNQVAVLYQGVNCTEVPVAIHADQLTPTWRVYSTGSNVFQTRAGCLIGAEHVN
ITPGTNTSNQVAVLYQGVNCTEVPVAIHADQLTPTWRVYSTGSNVFQTRAGCLIGAEHVN
ITPGTNTSNQVAVLYQGVNCTEVPVAIHADQLTPTWRVYSTGSNVFQTRAGCLIGAEHVN
ITPGTNTSNQVAVLYQGVNCTEVPVAIHADQLTPTWRVYSTGSNVFQTRAGCLIGAEYVN
ITPGTNTSNQVAVLYQGVNCTEVPVAIHADQLTPTWRVYSTGSNVFQTRAGCLIGAEYVN
ITPGTNTSNQVAVLYQGVNCTEVPVAIHADQLTPTWRVYSTGSNVFQTRAGCLIGAEYVN
ITPGTNTSNQVAVLYQGVNCTEVPVAIHADQLTPTWRVYSTGSNVFQTRAGCLIGAEYVN
ITPGTNTSNQVAVLYQGVNCTEVPVAIHADQLTPTWRVYSTGSNVFQTRAGCLIGAEYVN
****************.**************************************:**</pre><pre style="left:958px">657
655
650
658
654
657
656
657
657
657
657
657
657
657
657
654
654
654
654
654
652
652</pre></div>

<div class="b" style="left:2149px;top:1950.5px"><pre>wild type
DELTA
LAMBDA
MU
BETA
GAMMA
B.1.1.318
KAPPA
A 23.1
IOTA
THETA
EPSILON
20 A.EU1
20 A.EU2
ZETA
ALPHA
ETA
Omicron BA.1
Omicron BA.2
Omicron BA.2.12.1
Omicron BA.4
Omicron BA.5</pre><pre style="left:259px">NSYECDIPIGAGICASYQTQTNSPRRARSVASQSIIAYTMSLGAENSVAYSNNSIAIPTN
NSYECDIPIGAGICASYQTQTNSRRRARSVASQSIIAYTMSLGAENSVAYSNNSIAIPTN
NSYECDIPIGAGICASYQTQTNSPRRARSVASQSIIAYTMSLGAENSVAYSNNSIAIPTN
NSYECDIPIGAGICASYQTQTNSHRRARSVASQSIIAYTMSLGAENSVAYSNNSIAIPTN
NSYECDIPIGAGICASYQTQTNSPRRARSVASQSIIAYTMSLGVENSVAYSNNSIAIPTN
NSYECDIPIGAGICASYQTQTNSPRRARSVASQSIIAYTMSLGAENSVAYSNNSIAIPTN
NSYECDIPIGAGICASYQTQTNSHRRARSVASQSIIAYTMSLGAENSVAYSNNSIAIPTN
NSYECDIPIGAGICASYQTQTNSRRRARSVASQSIIAYTMSLGAENSVAYSNNSIAIPTN
NSYECDIPIGAGICASYQTQTNSPRRARSVASQSIIAYTMSLGAENSVAYSNNSIAIPTN
NSYECDIPIGAGICASYQTQTNSPRRARSVASQSIIAYTMSLGAENSVAYSNNSIAIPTN
NSYECDIPIGAGICASYQTQTNSHRRARSVASQSIIAYTMSLGAENSVAYSNNSIAIPTN
NSYECDIPIGAGICASYQTQTNSPRRARSVASQSIIAYTMSLGAENSVAYSNNSIAIPTN
NSYECDIPIGAGICASYQTQTNSPRRARSVASQSIIAYTMSLGAENSVAYSNNSIAIPTN
NSYECDIPIGAGICASYQTQTNSPRRARSVASQSIIAYTMSLGAENSVAYSNNSIAIPTN
NSYECDIPIGAGICASYQTQTNSPRRARSVASQSIIAYTMSLGAENSVAYSNNSIAIPTN
NSYECDIPIGAGICASYQTQTNSHRRARSVASQSIIAYTMSLGAENSVAYSNNSIAIPIN
NSYECDIPIGAGICASYQTQTKSPRRARSVASQSIIAYTMSLGAENSVAYSNNSIAIPTN
NSYECDIPIGAGICASYQTQTKSHRRARSVASQSIIAYTMSLGAENSVAYSNNSIAIPTN
NSYECDIPIGAGICASYQTQTKSHRRARSVASQSIIAYTMSLGAENSVAYSNNSIAIPTN
NSYECDIPIGAGICASYQTQTKSHRRARSVASQSIIAYTMSLGAENQVAYSNNSIAIPTN
NSYECDIPIGAGICASYQTQTKSHRRARSVASQSIIAYTMSLGAENSVAYSNNSIAIPTN
NSYECDIPIGAGICASYQTQTKSHRRARSVASQSIIAYTMSLGAENSVAYSNNSIAIPTN
*********************:.* ******************.** *********** *</pre><pre style="left:956px">717
715
710
718
714
717
716
717
717
717
717
717
717
717
717
714
714
714
714
714
712
712</pre></div>

<!-- ROW 5 -->
<div class="b" style="left:0px;top:2605.5px"><pre>wild type
DELTA
LAMBDA
MU
BETA
GAMMA
B.1.1.318
KAPPA
A 23.1
IOTA
THETA
EPSILON
20 A.EU1
20 A.EU2
ZETA
ALPHA
ETA
Omicron BA.1
Omicron BA.2
Omicron BA.2.12.1
Omicron BA.4
Omicron BA.5</pre><pre style="left:260px">FTISVTTEILPVSMTKTSVDCTMYICGDSTECSNLLLQYGSFCTQLNRALTGIAVEQDKN
FTISVTTEILPVSMTKTSVDCTMYICGDSTECSNLLLQYGSFCTQLNRALTGIAVEQDKN
FTISVTTEILPVSMTKTSVDCTMYICGDSTECSNLLLQYGSFCTQLNRALTGIAVEQDKN
FTISVTTEILPVSMTKTSVDCTMYICGDSTECSNLLLQYGSFCTQLNRALTGIAVEQDKN
FTISVTTEILPVSMTKTSVDCTMYICGDSTECSNLLLQYGSFCTQLNRALTGIAVEQDKN
FTISVTTEILPVSMTKTSVDCTMYICGDSTECSNLLLQYGSFCTQLNRALTGIAVEQDKN
FTISVTTEILPVSMTKTSVDCTMYICGDSTECSNLLLQYGSFCTQLNRALTGIAVEQDKN
FTISVTTEILPVSMTKTSVDCTMYICGDSTECSNLLLQYGSFCTQLNRALTGIAVEQDKN
FTISVTTEILPVSMTKTSVDCTMYICGDSTECSNLLLQYGSFCTQLNRALTGIAVEQDKN
FTISVTTEILPVSMTKTSVDCTMYICGDSTECSNLLLQYGSFCTQLNRALTGIAVEQDKN
FTISVTTEILPVSMTKTSVDCTMYICGDSTECSNLLLQYGSFCTQLNRALTGIAVEQDKN
FTISVTTEILPVSMTKTSVDCTMYICGDSTECSNLLLQYGSFCTQLNRALTGIAVEQDKN
FTISVTTEILPVSMTKTSVDCTMYICGDSTECSNLLLQYGSFCTQLNRALTGIAVEQDKN
FTISVTTEILPVSMTKTSVDCTMYICGDSTECSNLLLQYGSFCTQLNRALTGIAVEQDKN
FTISVTTEILPVSMTKTSVDCTMYICGDSTECSNLLLQYGSFCTQLNRALTGIAVEQDKN
FTISVTTEILPVSMTKTSVDCTMYICGDSTECSNLLLQYGSFCTQLNRALTGIAVEQDKN
FTISVTTEILPVSMTKTSVDCTMYICGDSTECSNLLLQYGSFCTQLNRALTGIAVEQDKN
FTISVTTEILPVSMTKTSVDCTMYICGDSTECSNLLLQYGSFCTQLKRALTGIAVEQDKN
FTISVTTEILPVSMTKTSVDCTMYICGDSTECSNLLLQYGSFCTQLKRALTGIAVEQDKN
FTISVTTEILPVSMTKTSVDCTMYICGDSTECSNLLLQYGSFCTQLKRALTGIAVEQDKN
FTISVTTEILPVSMTKTSVDCTMYICGDSTECSNLLLQYGSFCTQLKRALTGIAVEQDKN
FTISVTTEILPVSMTKTSVDCTMYICGDSTECSNLLLQYGSFCTQLKRALTGIAVEQDKN
**********************************************:*************</pre><pre style="left:957px">777
775
770
778
774
777
776
777
777
777
777
777
777
777
777
774
774
774
774
774
772
772</pre></div>

<div class="b" style="left:1062px;top:2605.5px"><pre>wild type
DELTA
LAMBDA
MU
BETA
GAMMA
B.1.1.318
KAPPA
A 23.1
IOTA
THETA
EPSILON
20 A.EU1
20 A.EU2
ZETA_
ALPHA_
ETA_
OmicronBA.1_
OmicronBA.2_
OmicronBA.2.12.1_
OmicronBA.4_
OmicronBA.5_</pre><pre style="left:263px">TQEVFAQVKQIYKTPPIKDFGGFNFSQILPDPSKPSKRSFIEDLLFNKVTLADAGFIKQY
TQEVFAQVKQIYKTPPIKDFGGFNFSQILPDPSKPSKRSFIEDLLFNKVTLADAGFIKQY
TQEVFAQVKQIYKTPPIKDFGGFNFSQILPDPSKPSKRSFIEDLLFNKVTLADAGFIKQY
TQEVFAQVKQIYKTPPIKDFGGFNFSQILPDPSKPSKRSFIEDLLFNKVTLADAGFIKQY
TQEVFAQVKQIYKTPPIKDFGGFNFSQILPDPSKPSKRSFIEDLLFNKVTLADAGFIKQY
TQEVFAQVKQIYKTPPIKDFGGFNFSQILPDPSKPSKRSFIEDLLFNKVTLADAGFIKQY
TQEVFAQVKQIYKTPPIKDFGGFNFSQILPDPSKPSKRSFIEDLLFNKVTLADAGFIKQY
TQEVFAQVKQIYKTPPIKDFGGFNFSQILPDPSKPSKRSFIEDLLFNKVTLADAGFIKQY
TQEVFAQVKQIYKTPPIKDFGGFNFSQILPDPSKPSKRSFIEDLLFNKVTLADAGFIKQY
TQEVFAQVKQIYKTPPIKDFGGFNFSQILPDPSKPSKRSFIEDLLFNKVTLADAGFIKQY
TQEVFAQVKQIYKTPPIKDFGGFNFSQILPDPSKPSKRSFIEDLLFNKVTLADAGFIKQY
TQEVFAQVKQIYKTPPIKDFGGFNFSQILPDPSKPSKRSFIEDLLFNKVTLADAGFIKQY
TQEVFAQVKQIYKTPPIKDFGGFNFSQILPDPSKPSKRSFIEDLLFNKVTLADAGFIKQY
TQEVFAQVKQIYKTPPIKDFGGFNFSQILPDPSKPSKRSFIEDLLFNKVTLADAGFIKQY
TQEVFAQVKQIYKTPPIKDFGGFNFSQILPDPSKPSKRSFIEDLLFNKVTLADAGFIKQY
TQEVFAQVKQIYKTPPIKDFGGFNFSQILPDPSKPSKRSFIEDLLFNKVTLADAGFIKQY
TQEVFAQVKQIYKTPPIKDFGGFNFSQILPDPSKPSKRSFIEDLLFNKVTLADAGFIKQY
TQEVFAQVKQIYKTPPIKYFGGFNFSQILPDPSKPSKRSFIEDLLFNKVTLADAGFIKQY
TQEVFAQVKQIYKTPPIKYFGGFNFSQILPDPSKPSKRSFIEDLLFNKVTLADAGFIKQY
TQEVFAQVKQIYKTPPIKYFGGFNFSQILPDPSKPSKRSFIEDLLFNKVTLADAGFIKQY
TQEVFAQVKQIYKTPPIKYFGGFNFSQILPDPSKPSKRSFIEDLLFNKVTLADAGFIKQY
TQEVFAQVKQIYKTPPIKYFGGFNFSQILPDPSKPSKRSFIEDLLFNKVTLADAGFIKQY
****************** *****************************************</pre><pre style="left:960px">837
835
830
838
834
837
836
837
837
837
837
837
837
837
837
834
834
834
834
834
832
832</pre></div>

<div class="b" style="left:2153px;top:2605.5px"><pre>wild type
DELTA
LAMBDA
MU
BETA
GAMMA
B.1.1.318
KAPPA
A 23.1
IOTA
THETA
EPSILON
20 A.EU1
20 A.EU2
ZETA
ALPHA
ETA
Omicron BA.1
Omicron BA.2
Omicron BA.2.12.1
Omicron BA.4
Omicron BA.5</pre><pre style="left:261px">GDCLGDIAARDLICAQKFNGLTVLPPLLTDEMIAQYTSALLAGTITSGWTFGAGAALQIP
GDCLGDIAARDLICAQKFNGLTVLPPLLTDEMIAQYTSALLAGTITSGWTFGAGAALQIP
GDCLGDIAARDLICAQKFNGLIVLPPLLTDEMIAQYTSALLAGTITSGWTFGAGAALQIP
GDCLGDIAARDLICAQKFNGLTVLPPLLTDEMIAQYTSALLAGTITSGWTFGAGAALQIP
GDCLGDIAARDLICAQKFNGLTVLPPLLTDEMIAQYTSALLAGTITSGWTFGAGAALQIP
GDCLGDIAARDLICAQKFNGLTVLPPLLTDEMIAQYTSALLAGTITSGWTFGAGAALQIP
GDCLGDIAARDLICAQKFNGLTVLPPLLTDEMIAQYTSALLAGTITSGWTFGAGAALQIP
GDCLGDIAARDLICAQKFNGLTVLPPLLTDEMIAQYTSALLAGTITSGWTFGAGAALQIP
GDCLGDIAARDLICAQKFNGLTVLPPLLTDEMIAQYTSALLAGTITSGWTFGAGAALQIP
GDCLGDIAARDLICAQKFNGLTVLPPLLTDEMIAQYTSALLAGTITSGWTFGAGAALQIP
GDCLGDIAARDLICAQKFNGLTVLPPLLTDEMIAQYTSALLAGTITSGWTFGAGAALQIP
GDCLGDIAARDLICAQKFNGLTVLPPLLTDEMIAQYTSALLAGTITSGWTFGAGAALQIP
GDCLGDIAARDLICAQKFNGLTVLPPLLTDEMIAQYTSALLAGTITSGWTFGAGAALQIP
GDCLGDIAARDLICAQKFNGLTVLPPLLTDEMIAQYTSALLAGTITSGWTFGAGAALQIP
GDCLGDIAARDLICAQKFNGLTVLPPLLTDEMIAQYTSALLAGTITSGWTFGAGAALQIP
GDCLGDIAARDLICAQKFNGLTVLPPLLTDEMIAQYTSALLAGTITSGWTFGAGAALQIP
GDCLGDIAARDLICAQKFNGLTVLPPLLTDEMIAQYTSALLAGTITSGWTFGAGAALQIP
GDCLGDIAARDLICAQKFKGLTVLPPLLTDEMIAQYTSALLAGTITSGWTFGAGAALQIP
GDCLGDIAARDLICAQKFNGLTVLPPLLTDEMIAQYTSALLAGTITSGWTFGAGAALQIP
GDCLGDIAARDLICAQKFNGLTVLPPLLTDEMIAQYTSALLAGTITSGWTFGAGAALQIP
GDCLGDIAARDLICAQKFNGLTVLPPLLTDEMIAQYTSALLAGTITSGWTFGAGAALQIP
GDCLGDIAARDLICAQKFNGLTVLPPLLTDEMIAQYTSALLAGTITSGWTFGAGAALQIP
******************:**:.***************************:*********</pre><pre style="left:958px">897
895
890
898
894
897
896
897
897
897
897
897
897
897
897
894
894
894
894
894
892
892</pre></div>

<!-- ROW 6 -->
<div class="b" style="left:0px;top:3243.5px"><pre>wild type
DELTA
LAMBDA
MU
BETA
GAMMA
B.1.1.318
KAPPA
A 23.1
IOTA
THETA
EPSILON
20 A.EU1
20 A.EU2
ZETA
ALPHA
ETA
Omicron BA.1
Omicron BA.2
Omicron BA.2.12.1
Omicron BA.4
Omicron BA.5</pre><pre style="left:260px">FAMQMAYRFNGIGVTQNVLYENQKLIANQFNSAIGKIQDSLSSTASALGKLQDVVNQNAQ
FAMQMAYRFNGIGVTQNVLYENQKLIANQFNSAIGKIQDSLSSTASALGKLQDVVNQNAQ
FAMQMAYRFNGIGVTQNVLYENQKLIANQFNSAIGKIQDSLSSTASALGKLQDVVNQNAQ
FAMQMAYRFNGIGVTQNVLYENQKLIANQFNSAIGKIQDSLSSTASALGKLQDVVNQNAQ
FAMQMAYRFNGIGVTQNVLYENQKLIANQFNSAIGKIQDSLSSTASALGKLQDVVNQNAQ
FAMQMAYRFNGIGVTQNVLYENQKLIANQFNSAIGKIQDSLSSTASALGKLQDVVNQNAQ
FAMQMAYRFNGIGVTQNVLYENQKLIANQFNSAIGKIQDSLSSTASALGKLQDVVNQNAQ
FAMQMAYRFNGIGVTQNVLYENQKLIANQFNSAIGKIQDSLSSTASALGKLQDVVNQNAQ
FAMQMAYRFNGIGVTQNVLYENQKLIANQFNSAIGKIQDSLSSTASALGKLQDVVNQNAQ
FAMQMAYRFNGIGVTQNVLYENQKLIANQFNSAIGKIQDSLSSTASALGKLQDVVNQNAQ
FAMQMAYRFNGIGVTQNVLYENQKLIANQFNSAIGKIQDSLSSTASALGKLQDVVNQNAQ
FAMQMAYRFNGIGVTQNVLYENQKLIANQFNSAIGKIQDSLSSTASALGKLQDVVNQNAQ
FAMQMAYRFNGIGVTQNVLYENQKLIANQFNSAIGKIQDSLSSTASALGKLQDVVNQNAQ
FAMQMAYRFNGIGVTQNVLYENQKLIANQFNSAIGKIQDSLSSTASALGKLQDVVNQNAQ
FAMQMAYRFNGIGVTQNVLYENQKLIANQFNSAIGKIQDSLSSTASALGKLQDVVNQNAQ
FAMQMAYRFNGIGVTQNVLYENQKLIANQFNSAIGKIQDSLSSTASALGKLQDVVNQNAQ
FAMQMAYRFNGIGVTQNVLYENQKLIANQFNSAIGKIQDSLSSTASALGKLQDVVNQNAQ
FAMQMAYRFNGIGVTQNVLYENQKLIANQFNSAIGKIQDSLSSTASALGKLQDVVNHNAQ
FAMQMAYRFNGIGVTQNVLYENQKLIANQFNSAIGKIQDSLSSTASALGKLQDVVNHNAQ
FAMQMAYRFNGIGVTQNVLYENQKLIANQFNSAIGKIQDSLSSTASALGKLQDVVNHNAQ
FAMQMAYRFNGIGVTQNVLYENQKLIANQFNSAIGKIQDSLSSTASALGKLQDVVNHNAQ
FAMQMAYRFNGIGVTQNVLYENQKLIANQFNSAIGKIQDSLSSTASALGKLQDVVNHNAQ
********************************************************:***</pre><pre style="left:957px">957
955
950
958
954
957
956
957
957
957
957
957
957
957
957
954
954
954
954
954
952
952</pre></div>

<div class="b" style="left:1062px;top:3243.5px"><pre>wild type
DELTA
LAMBDA
MU
BETA
GAMMA
B.1.1.318
KAPPA
A 23.1
IOTA
THETA
EPSILON
20 A.EU1
20 A.EU2
ZETA
ALPHA
ETA
Omicron BA.1
Omicron BA.2
Omicron BA.2.12.1
Omicron BA.4
Omicron BA.5</pre><pre style="left:263px">ALNTLVKQLSSNFGAISSVLNDILSRLDKVEAEVQIDRLITGRLQSLQTYVTQQLIRAAE
ALNTLVKQLSSNFGAISSVLNDILSRLDKVEAEVQIDRLITGRLQSLQTYVTQQLIRAAE
ALNTLVKQLSSNFGAISSVLNDILSRLDKVEAEVQIDRLITGRLQSLQTYVTQQLIRAAE
ALNTLVKQLSSNFGAISSVLNDILSRLDKVEAEVQIDRLITGRLQSLQTYVTQQLIRAAE
ALNTLVKQLSSNFGAISSVLNDILSRLDKVEAEVQIDRLITGRLQSLQTYVTQQLIRAAE
ALNTLVKQLSSNFGAISSVLNDILSRLDKVEAEVQIDRLITGRLQSLQTYVTQQLIRAAE
ALNTLVKQLSSNFGAISSVLNDILSRLDKVEAEVQIDRLITGRLQSLQTYVTQQLIRAAE
ALNTLVKQLSSNFGAISSVLNDILSRLDKVEAEVQIDRLITGRLQSLQTYVTQQLIRAAE
ALNTLVKQLSSNFGAISSVLNDILSRLDKVEAEVQIDRLITGRLQSLQTYVTQQLIRAAE
ALNTLVKQLSSNFGAISSVLNDILSRLDKVEAEVQIDRLITGRLQSLQTYVTQQLIRAAE
ALNTLVKQLSSNFGAISSVLNDILSRLDKVEAEVQIDRLITGRLQSLQTYVTQQLIRAAE
ALNTLVKQLSSNFGAISSVLNDILSRLDKVEAEVQIDRLITGRLQSLQTYVTQQLIRAAE
ALNTLVKQLSSNFGAISSVLNDILSRLDKVEAEVQIDRLITGRLQSLQTYVTQQLIRAAE
ALNTLVKQLSSNFGAISSVLNDILSRLDKVEAEVQIDRLITGRLQSLQTYVTQQLIRAAE
ALNTLVKQLSSNFGAISSVLNDILSRLDKVEAEVQIDRLITGRLQSLQTYVTQQLIRAAE
ALNTLVKQLSSNFGAISSVLNDIL--RLDKVEAEVQIDRLITGRLQSLQTYVTQQLIRAAE
ALNTLVKQLSSNFGAISSVLNDILSRLDKVEAEVQIDRLITGRLQSLQTYVTQQLIRAAE
ALNTLVKQLSSKFGAISSVLNDIFSRLDKVEAEVQIDRLITGRLQSLQTYVTQQLIRAAE
ALNTLVKQLSSKFGAISSVLNDILSRLDKVEAEVQIDRLITGRLQSLQTYVTQQLIRAAE
ALNTLVKQLSSKFGAISSVLNDILSRLDKVEAEVQIDRLITGRLQSLQTYVTQQLIRAAE
ALNTLVKQLSSKFGAISSVLNDILSRLDKVEAEVQIDRLITGRLQSLQTYVTQQLIRAAE
ALNTLVKQLSSKFGAISSVLNDILSRLDKVEAEVQIDRLITGRLQSLQTYVTQQLIRAAE
***********:***********.::**********************************</pre><pre style="left:960px">1017
1015
1010
1018
1014
1017
1016
1017
1017
1017
1017
1017
1017
1017
1017
1014
1014
1014
1014
1014
1012
1012</pre></div>

<div class="b" style="left:2153px;top:3243.5px"><pre>wild type
DELTA
LAMBDA
MU
BETA
GAMMA
B.1.1.318
KAPPA
A 23.1
IOTA
THETA
EPSILON
20 A.EU1
20 A.EU2
ZETA
ALPHA
ETA
Omicron BA.1
Omicron BA.2
Omicron BA.2.12.1
Omicron BA.4
Omicron BA.5</pre><pre style="left:261px">IRASANLAATKMSECVLGQSKRVDFCGKGYHLMSFPQSAPHGVVFLHVTYVPAQEKNFTT
IRASANLAATKMSECVLGQSKRVDFCGKGYHLMSFPQSAPHGVVFLHVTYVPAQEKNFTT
IRASANLAATKMSECVLGQSKRVDFCGKGYHLMSFPQSAPHGVVFLHVTYVPAQEKNFTT
IRASANLAATKMSECVLGQSKRVDFCGKGYHLMSFPQSAPHGVVFLHVTYVPAQEKNFTT
IRASANLAATKMSECVLGQSKRVDFCGKGYHLMSFPQSAPHGVVFLHVTYVPAQEKNFTT
IRASANLAITKMSECVLGQSKRVDFCGKGYHLMSFPQSAPHGVVFLHVTYVPAQEKNFTT
IRASANLAATKMSECVLGQSKRVDFCGKGYHLMSFPQSAPHGVVFLHVTYVPAQEKNFTT
IRASANLAATKMSECVLGQSKRVDFCGKGYHLMSFPQSAPHGVVFLHVTYVPAHEKNFTT
IRASANLAATKMSECVLGQSKRVDFCGKGYHLMSFPQSAPHGVVFLHVTYVPAQEKNFTT
IRASANLAATKMSECVLGQSKRVDFCGKGYHLMSFPQSAPHGVVFLHVTYVPAQEKNFTT
IRASANLAATKMSECVLGQSKRVDFCGKGYHLMSFPQSAPHGVVFLHVTYVPAQEKNFTT
IRASANLAATKMSECVLGQSKRVDFCGKGYHLMSFPQSAPHGVVFLHVTYVPAQEKNFTT
IRASANLAATKMSECVLGQSKRVDFCGKGYHLMSFPQSAPHGVVFLHVTYVPAQEKNFTT
IRASANLAATKMSECVLGQSKRVDFCGKGYHLMSFPQSAPHGVVFLHVTYVPAQEKNFTT
IRASANLAATKMSECVLGQSKRVDFCGKGYHLMSFPQSAPHGVVFLHVTYVPAQEKNFTT
IRASANLAATKMSECVLGQSKRVDFCGKGYHLMSFPQSAPHGVVFLHVTYVPAQEKNFTT
IRASANLAATKMSECVLGQSKRVDFCGKGYHLMSFPQSAPHGVVFLHVTYVPAQEKNFTT
IRASANLAATKMSECVLGQSKRVDFCGKGYHLMSFPQSAPHGVVFLHVTYVPAQEKNFTT
IRASANLAATKMSECVLGQSKRVDFCGKGYHLMSFPQSAPHGVVFLHVTYVPAQEKNFTT
IRASANLAATKMSECVLGQSKRVDFCGKGYHLMSFPQSAPHGVVFLHVTYVPAQEKNFTT
IRASANLAATKMSECVLGQSKRVDFCGKGYHLMSFPQSAPHGVVFLHVTYVPAQEKNFTT
IRASANLAATKMSECVLGQSKRVDFCGKGYHLMSFPQSAPHGVVFLHVTYVPAQEKNFTT
******** ********************************************:******</pre><pre style="left:958px">1077
1075
1070
1078
1074
1077
1076
1077
1077
1077
1077
1077
1077
1077
1077
1074
1074
1074
1074
1074
1072
1072</pre></div>

<!-- ROW 7 -->
<div class="b" style="left:0px;top:3899.5px"><pre>wild type
DELTA
LAMBDA
MU
BETA
GAMMA
B.1.1.318
KAPPA
A 23.1
IOTA
THETA
EPSILON
20 A.EU1
20 A.EU2
ZETA
ALPHA
ETA
Omicron BA.1
Omicron BA.2
Omicron BA.2.12.1
Omicron BA.4
Omicron BA.5</pre><pre style="left:260px">APAICHDGKAHFPREGVFVSNGTHWFVTQRNFYEPQIITTDNTFVSGNCDVVIGIVNNTV
APAICHDGKAHFPREGVFVSNGTHWFVTQRNFYEPQIITTDNTFVSGNCDVVIGIVNNTV
APAICHDGKAHFPREGVFVSNGTHWFVTQRNFYEPQIITTDNTFVSGNCDVVIGIVNNTV
APAICHDGKAHFPREGVFVSNGTHWFVTQRNFYEPQIITTDNTFVSGNCDVVIGIVNNTV
APAICHDGKAHFPREGVFVSNGTHWFVTQRNFYEPQIITTDNTFVSGNCDVVIGIVNNTV
APAICHDGKAHFPREGVFVSNGTHWFVTQRNFYEPQIITTDNTFVSGNCDVVIGIVNNTV
APAICHDGKAHFPREGVFVSNGTHWFVTQRNFYEPQIITTDNTFVSGNCDVVIGIVNNTV
APAICHDGKAHFPREGVFVSNGTHWFVTQRNFYEPQIITTDNTFVSGNCDVVIGIVNNTV
APAICHDGKAHFPREGVFVSNGTHWFVTQRNFYEPQIITTDNTFVSGNCDVVIGIVNNTV
APAICHDGKAHFPREGVFVSNGTHWFVTQRNFYEPQIITTDNTFVSGNCDVVIGIVNNTV
APAICHDGKAHFPRDGVFVSNGTYWFVTQRNFYEPQIITTDNTFVSGNCDVVIGIVNNTV
APAICHDGKAHFPREGVFVSNGTHWFVTQRNFYEPQIITTDNTFVSGNCDVVIGIVNNTV
APAICHDGKAHFPREGVFVSNGTHWFVTQRNFYEPQIITTDNTFVSGNCDVVIGIVNNTV
APAICHDGKAHFPREGVFVSNGTHWFVTQRNFYEPQIITTDNTFVSGNCDVVIGIVNNTV
APAICHDGKAHFPREGVFVSNGTHWFVTQRNFYEPQIITTDNTFVSGNCDVVIGIVNNTV
APAICHDGKAHFPREGVFVSNGTHWFVTQRNFYEPQIITTHNTFVSGNCDVVIGIVNNTV
APAICHDGKAHFPREGVFVSNGTHWFVTQRNFYEPQIITTDNTFVSGNCDVVIGIVNNTV
APAICHDGKAHFPREGVFVSNGTHWFVTQRNFYEPQIITTDNTFVSGNCDVVIGIVNNTV
APAICHDGKAHFPREGVFVSNGTHWFVTQRNFYEPQIITTDNTFVSGNCDVVIGIVNNTV
APAICHDGKAHFPREGVFVSNGTHWFVTQRNFYEPQIITTDNTFVSGNCDVVIGIVNNTV
APAICHDGKAHFPREGVFVSNGTHWFVTQRNFYEPQIITTDNTFVSGNCDVVIGIVNNTV
APAICHDGKAHFPREGVFVSNGTHWFVTQRNFYEPQIITTDNTFVSGNCDVVIGIVNNTV
**************:******** **************** *******************</pre><pre style="left:957px">1137
1135
1130
1138
1134
1137
1136
1137
1137
1137
1137
1137
1137
1137
1137
1134
1134
1134
1134
1134
1132
1132</pre></div>

<div class="b" style="left:1072px;top:3906.5px"><pre>wild type
DELTA
LAMBDA
MU
BETA
GAMMA
B.1.1.318
KAPPA
A 23.1
IOTA
THETA
EPSILON
20 A.EU1
20 A.EU2
ZETA
ALPHA
ETA
Omicron BA.1
Omicron BA.2
Omicron BA.2.12.1
Omicron BA.4
Omicron BA.5</pre><pre style="left:261px">YDPLQPELDSFKEELDKYFKNHTSPDVDLGDISGINASVVNIQKEIDRLNEVAKNLNESL
YDPLQPELDSFKEELDKYFKNHTSPDVDLGDISGINASVVNIQKEIDRLNEVAKNLNESL
YDPLQPELDSFKEELDKYFKNHTSPDVDLGDISGINASVVNIQKEIDRLNEVAKNLNESL
YDPLQPELDSFKEELDKYFKNHTSPDVDLGDISGINASVVNIQKEIDRLNEVAKNLNESL
YDPLQPELDSFKEELDKYFKNHTSPDVDLGDISGINASVVNIQKEIDRLNEVAKNLNESL
YDPLQPELDSFKEELDKYFKNHTSPDVDLGDISGINASVVNIQKEIDRLNEVAKNLNESL
YDPLQPELDSFKEELDKYFKNHTSPDVDLGDISGINASVVNIQKEIDRLNEVAKNLNESL
YDPLQPELDSFKEELDKYFKNHTSPDVDLGDISGINASVVNIQKEIDRLNEVAKNLNESL
YDPLQPELDSFKEELDKYFKNHTSPDVDLGDISGINASVVNIQKEIDRLNEVAKNLNESL
YDPLQPELDSFKEELDKYFKNHTSPDVDLGDISGINASVVNIQKEIDRLNEVAKNLNESL
YDPLQPELDSFKEELDKYFKNHTSPDVDLGDISGINASVVNIQKEIDRLNEVAKNLNESL
YDPLQPELDSFKEELDKYFKNHTSPDVDLGDISGINASVVNIQKEIDRLNEVAKNLNESL
YDPLQPELDSFKEELDKYFKNHTSPDVDLGDISGINASVVNIQKEIDRLNEVAKNLNESL
YDPLQPELDSFKEELDKYFKNHTSPDVDLGDISGINASVVNIQKEIDRLNEVAKNLNESL
YDPLQPELDSFKEELDKYFKNHTSPDVDLGDISGINASVVNIQKEIDRLNEVAKNLNESL
YDPLQPELDSFKEELDKYFKNHTSPDVDLGDISGINASVVNIQKEIDRLNEVAKNLNESL
YDPLQPELDSFKEELDKYFKNHTSPDVDLGDISGINASVVNIQKEIDRLNEVAKNLNESL
YDPLQPELDSFKEELDKYFKNHTSPDVDLGDISGINASVVNIQKEIDRLNEVAKNLNESL
YDPLQPELDSFKEELDKYFKNHTSPDVDLGDISGINASVVNIQKEIDRLNEVAKNLNESL
YDPLQPELDSFKEELDKYFKNHTSPDVDLGDISGINASVVNIQKEIDRLNEVAKNLNESL
YDPLQPELDSFKEELDKYFKNHTSPDVDLGDISGINASVVNIQKEIDRLNEVAKNLNESL
YDPLQPELDSFKEELDKYFKNHTSPDVDLGDISGINASVVNIQKEIDRLNEVAKNLNESL
*********************************.**************************</pre><pre style="left:958px">1197
1195
1190
1198
1194
1197
1196
1197
1197
1197
1197
1197
1197
1197
1197
1194
1194
1194
1194
1194
1192
1192</pre></div>

<div class="b" style="left:2166px;top:3900.5px"><pre>wild type
DELTA
LAMBDA
MU
BETA
GAMMA
B.1.1.318
KAPPA
A 23.1
IOTA
THETA
EPSILON
20 A.EU1
20 A.EU2
ZETA
ALPHA
ETA
Omicron BA.1
Omicron BA.2
Omicron BA.2.12.1
Omicron BA.4
Omicron BA.5</pre><pre style="left:267px">IDLQELGKYEQYIKWPWYIWLGFIAGLIAIVMVTIMLCCMTSCCSCLKGCCSCGSCCKFD
IDLQELGKYEQYIKWPWYIWLGFIAGLIAIVMVTIMLCCMTSCCSCLKGCCSCGSCCKFD
IDLQELGKYEQYIKWPWYIWLGFIAGLIAIVMVTIMLCCMTSCCSCLKGCCSCGSCCKFD
IDLQELGKYEQYIKWPWYIWLGFIAGLIAIVMVTIMLCCMTSCCSCLKGCCSCGSCCKFD
IDLQELGKYEQYIKWPWYIWLGFIAGLIAIVMVTIMLCCMTSCCSCLKGCCSCGSCCKFD
IDLQELGKYEQYIKWPWYIWLGFIAGLIAIVMVTIMLCCMTSCCSCLKGCCSCGSCCKFD
IDLQELGKYEQYIKWPWYIWLGFIAGLIAIVMVTIMLCCMTSCCSCLKGCCSCGSCCKFD
IDLQELGKYEQYIKWPWYIWLGFIAGLIAIVMVTIMLCCMTSCCSCLKGCCSCGSCCKFD
IDLQELGKYEQYIKWPWYIWLGFIAGLIAIVMVTIMLCCMTSCCSCLKGCCSCGSCCKFD
IDLQELGKYEQYIKWPWYIWLGFIAGLIAIVMVTIMLCCMTSCCSCLKGCCSCGSCCKFD
IDLQELGKYEQYIKWPWYIWLGFIAGLIAIVMVTIMLCCMTSCCSCLKGCCSCGSCCKFD
IDLQELGKYEQYIKWPWYIWLGFIAGLIAIVMVTIMLCCMTSCCSCLKGCCSCGSCCKFD
IDLQELGKYEQYIKWPWYIWLGFIAGLIAIVMVTIMLCCMTSCCSCLKGCCSCGSCCKFD
IDLQELGKYEQYIKWPWYIWLGFIAGLIAIVMVTIMLCCMTSCCSCLKGCCSCGSCCKFD
IDLQELGKYEQYIKWPWYIWLGFIAGLIAIVMVTIMLCCMTSCCSCLKGCCSCGSCCKFD
IDLQELGKYEQYIKWPWYIWLGFIAGLIAIVMVTIMLCCMTSCCSCLKGCCSCGSCCKFD
IDLQELGKYEQYIKWPWYIWLGFIAGLIAIVMVTIMLCCMTSCCSCLKGCCSCGSCCKFD
IDLQELGKYEQYIKWPWYIWLGFIAGLIAIVMVTIMLCCMTSCCSCLKGCCSCGSCCKFD
IDLQELGKYEQYIKWPWYIWLGFIAGLIAIVMVTIMLCCMTSCCSCLKGCCSCGSCCKFD
IDLQELGKYEQYIKWPWYIWLGFIAGLIAIVMVTIMLCCMTSCCSCLKGCCSCGSCCKFD
IDLQELGKYEQYIKWPWYIWLGFIAGLIAIVMVTIMLCCMTSCCSCLKGCCSCGSCCKFD
IDLQELGKYEQYIKWPWYIWLGFIAGLIAIVMVTIMLCCMTSCCSCLKGCCSCGSCCKFD
************************************************************</pre><pre style="left:958px">1257
1255
1250
1258
1254
1257
1256
1257
1257
1257
1257
1257
1257
1257
1257
1254
1254
1254
1254
1254
1252
1252</pre></div>
</body></html>
